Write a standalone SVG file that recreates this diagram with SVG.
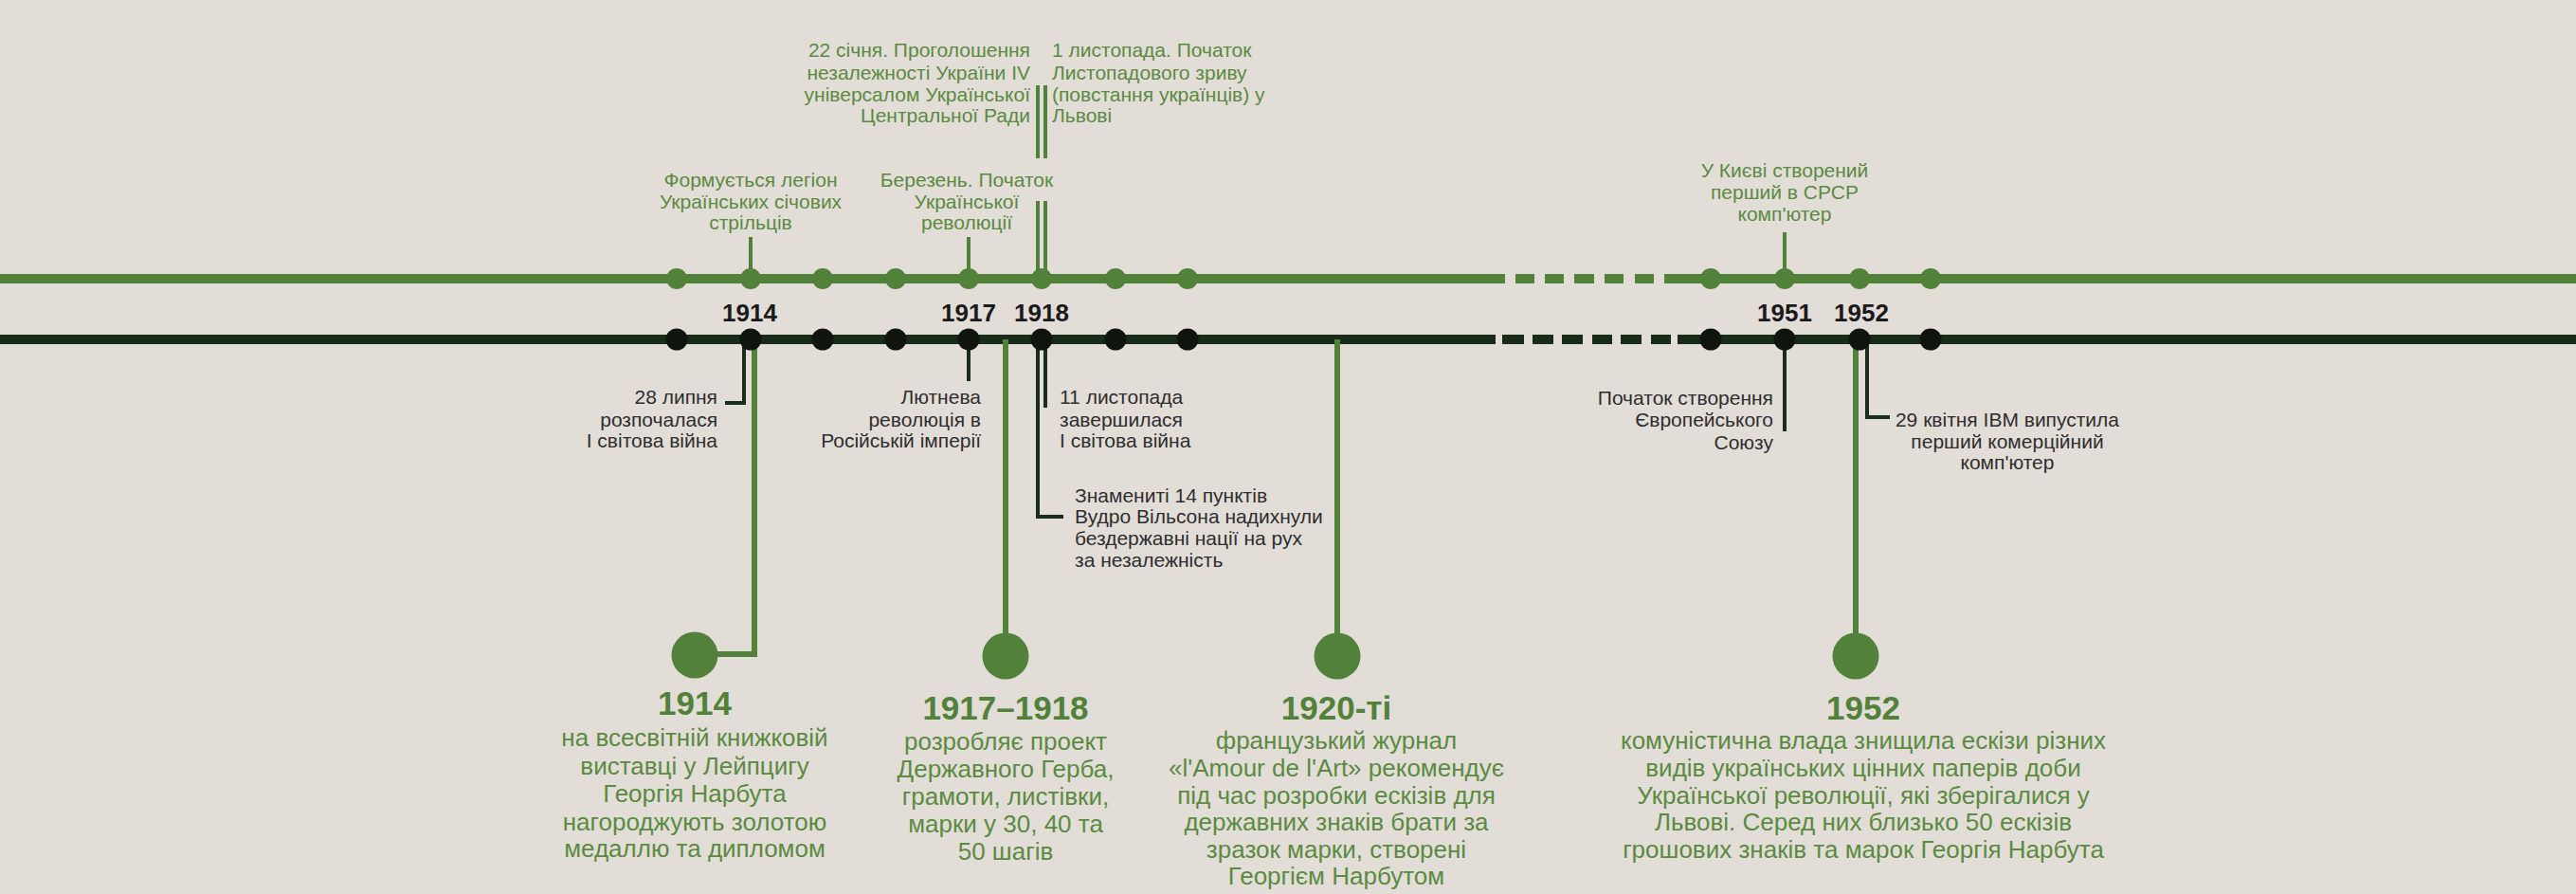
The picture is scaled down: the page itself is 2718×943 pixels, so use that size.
<svg xmlns="http://www.w3.org/2000/svg" width="2718" height="943" viewBox="0 0 2718 943">
<style>
  .bg{fill:#e3ddd8}
  .gline{stroke:#52813a;stroke-width:10;fill:none}
  .dline{stroke:#182b19;stroke-width:10;fill:none}
  .gdot{fill:#52813a}
  .ddot{fill:#0f140f}
  .gconn{stroke:#52813a;stroke-width:4;fill:none}
  .gconnb{stroke:#52813a;stroke-width:6;fill:none}
  .dconn{stroke:#1a2c1b;stroke-width:4;fill:none}
  .big{fill:#52813a}
  .lbl{font-family:"Liberation Sans",Arial,sans-serif;font-size:21px}
  .glbl{fill:#5a8b41}
  .dlbl{fill:#2e2e2e}
  .yr{font-family:"Liberation Sans",Arial,sans-serif;font-size:26px;font-weight:bold;fill:#1a1a1a;text-anchor:middle}
  .byr{font-family:"Liberation Sans",Arial,sans-serif;font-size:35px;font-weight:bold;fill:#52813a;text-anchor:middle}
  .body{font-family:"Liberation Sans",Arial,sans-serif;font-size:26px;fill:#5a8b41;text-anchor:middle}
  .mid{text-anchor:middle}
  .end{text-anchor:end}
  .start{text-anchor:start}
</style>
<rect class="bg" x="0" y="0" width="2718" height="943"/>

<g id="timeline-lines">
  <path class="gline" d="M0 294H1588"/>
  <path class="gline" d="M1756 294H2718"/>
  <path class="gline" d="M1599 294h20M1630 294h20M1661 294h21M1693 294h20M1725 294h20"/>
  <path class="dline" d="M0 358H1578"/>
  <path class="dline" d="M1770 358H2718"/>
  <path class="dline" d="M1585 358h23M1617 358h22M1648 358h22M1680 358h21M1710 358h22M1742 358h21"/>
</g>

<g id="connectors">
  <path class="gconn" d="M792 250V294"/>
  <path class="gconn" d="M1022 250V294"/>
  <path class="gconn" d="M1095 90V167M1103 90V167"/>
  <path class="gconn" d="M1095 212V294M1103 212V294"/>
  <path class="gconn" d="M1883 245V294"/>
  <path class="dconn" d="M785 358V425H765"/>
  <path class="dconn" d="M1022 358V402"/>
  <path class="dconn" d="M1103 358V430"/>
  <path class="dconn" d="M1095 358V545H1122"/>
  <path class="dconn" d="M1883 358V455"/>
  <path class="dconn" d="M1970 358V440H1994"/>
  <path class="gconnb" d="M796 358V690H733"/>
  <path class="gconnb" d="M1061 358V690"/>
  <path class="gconnb" d="M1411 358V690"/>
  <path class="gconnb" d="M1958 358V690"/>
</g>

<g id="dots">
  <circle class="gdot" cx="714" cy="294" r="11"/>
  <circle class="gdot" cx="792" cy="294" r="11"/>
  <circle class="gdot" cx="868" cy="294" r="11"/>
  <circle class="gdot" cx="945" cy="294" r="11"/>
  <circle class="gdot" cx="1022" cy="294" r="11"/>
  <circle class="gdot" cx="1099" cy="294" r="11"/>
  <circle class="gdot" cx="1177" cy="294" r="11"/>
  <circle class="gdot" cx="1253" cy="294" r="11"/>
  <circle class="gdot" cx="1805" cy="294" r="11"/>
  <circle class="gdot" cx="1883" cy="294" r="11"/>
  <circle class="gdot" cx="1962" cy="294" r="11"/>
  <circle class="gdot" cx="2037" cy="294" r="11"/>
  <circle class="ddot" cx="714" cy="358" r="11.5"/>
  <circle class="ddot" cx="792" cy="358" r="11.5"/>
  <circle class="ddot" cx="868" cy="358" r="11.5"/>
  <circle class="ddot" cx="945" cy="358" r="11.5"/>
  <circle class="ddot" cx="1022" cy="358" r="11.5"/>
  <circle class="ddot" cx="1099" cy="358" r="11.5"/>
  <circle class="ddot" cx="1177" cy="358" r="11.5"/>
  <circle class="ddot" cx="1253" cy="358" r="11.5"/>
  <circle class="ddot" cx="1805" cy="358" r="11.5"/>
  <circle class="ddot" cx="1883" cy="358" r="11.5"/>
  <circle class="ddot" cx="1962" cy="358" r="11.5"/>
  <circle class="ddot" cx="2037" cy="358" r="11.5"/>
</g>

<g id="years">
  <text class="yr" x="791" y="339">1914</text>
  <text class="yr" x="1022" y="339">1917</text>
  <text class="yr" x="1099" y="339">1918</text>
  <text class="yr" x="1883" y="339">1951</text>
  <text class="yr" x="1964" y="339">1952</text>
</g>

<g id="top-legion">
  <text class="lbl glbl mid"><tspan x="792" y="197">Формується легіон</tspan><tspan x="792" y="220">Українських січових</tspan><tspan x="792" y="242">стрільців</tspan></text>
</g>
<g id="top-berezen">
  <text class="lbl glbl mid"><tspan x="1020" y="197">Березень. Початок</tspan><tspan x="1020" y="220">Української</tspan><tspan x="1020" y="242">революції</tspan></text>
</g>
<g id="top-22sichnia">
  <text class="lbl glbl end"><tspan x="1087" y="60">22 січня. Проголошення</tspan><tspan x="1087" y="84">незалежності України IV</tspan><tspan x="1087" y="107">універсалом Української</tspan><tspan x="1087" y="129">Центральної Ради</tspan></text>
</g>
<g id="top-1lystopada">
  <text class="lbl glbl start"><tspan x="1110" y="60">1 листопада. Початок</tspan><tspan x="1110" y="84">Листопадового зриву</tspan><tspan x="1110" y="107">(повстання українців) у</tspan><tspan x="1110" y="129">Львові</tspan></text>
</g>
<g id="top-kyiv">
  <text class="lbl glbl mid"><tspan x="1883" y="187">У Києві створений</tspan><tspan x="1883" y="210">перший в СРСР</tspan><tspan x="1883" y="233">комп'ютер</tspan></text>
</g>

<g id="bot-28lypnia">
  <text class="lbl dlbl end"><tspan x="757" y="426">28 липня</tspan><tspan x="757" y="450">розпочалася</tspan><tspan x="757" y="472">І світова війна</tspan></text>
</g>
<g id="bot-liutneva">
  <text class="lbl dlbl end"><tspan x="1035" y="426">Лютнева</tspan><tspan x="1035" y="450">революція в</tspan><tspan x="1035" y="472">Російській імперії</tspan></text>
</g>
<g id="bot-11lystopada">
  <text class="lbl dlbl start"><tspan x="1118" y="426">11 листопада</tspan><tspan x="1118" y="450">завершилася</tspan><tspan x="1118" y="472">І світова війна</tspan></text>
</g>
<g id="bot-wilson">
  <text class="lbl dlbl start"><tspan x="1134" y="530">Знамениті 14 пунктів</tspan><tspan x="1134" y="552">Вудро Вільсона надихнули</tspan><tspan x="1134" y="575">бездержавні нації на рух</tspan><tspan x="1134" y="598">за незалежність</tspan></text>
</g>
<g id="bot-eu">
  <text class="lbl dlbl end"><tspan x="1871" y="427">Початок створення</tspan><tspan x="1871" y="450">Європейського</tspan><tspan x="1871" y="474">Союзу</tspan></text>
</g>
<g id="bot-ibm">
  <text class="lbl dlbl mid"><tspan x="2118" y="450">29 квітня IBM випустила</tspan><tspan x="2118" y="473">перший комерційний</tspan><tspan x="2118" y="495">комп'ютер</tspan></text>
</g>

<g id="event-1914">
  <circle class="big" cx="733" cy="691" r="24.5"/>
  <text class="byr" x="733" y="754">1914</text>
  <text class="body"><tspan x="733" y="787">на всесвітній книжковій</tspan><tspan x="733" y="817">виставці у Лейпцигу</tspan><tspan x="733" y="846">Георгія Нарбута</tspan><tspan x="733" y="876">нагороджують золотою</tspan><tspan x="733" y="904">медаллю та дипломом</tspan></text>
</g>
<g id="event-1917-1918">
  <circle class="big" cx="1061" cy="692" r="24.5"/>
  <text class="byr" x="1061" y="759">1917–1918</text>
  <text class="body"><tspan x="1061" y="791">розробляє проект</tspan><tspan x="1061" y="820">Державного Герба,</tspan><tspan x="1061" y="849">грамоти, листівки,</tspan><tspan x="1061" y="878">марки у 30, 40 та</tspan><tspan x="1061" y="907">50 шагів</tspan></text>
</g>
<g id="event-1920s">
  <circle class="big" cx="1411" cy="692" r="24.5"/>
  <text class="byr" x="1410" y="759">1920-ті</text>
  <text class="body"><tspan x="1410" y="790">французький журнал</tspan><tspan x="1410" y="819">«l'Amour de l'Art» рекомендує</tspan><tspan x="1410" y="848">під час розробки ескізів для</tspan><tspan x="1410" y="876">державних знаків брати за</tspan><tspan x="1410" y="905">зразок марки, створені</tspan><tspan x="1410" y="933">Георгієм Нарбутом</tspan></text>
</g>
<g id="event-1952">
  <circle class="big" cx="1958" cy="692" r="24.5"/>
  <text class="byr" x="1966" y="759">1952</text>
  <text class="body"><tspan x="1966" y="790">комуністична влада знищила ескізи різних</tspan><tspan x="1966" y="819">видів українських цінних паперів доби</tspan><tspan x="1966" y="848">Української революції, які зберігалися у</tspan><tspan x="1966" y="876">Львові. Серед них близько 50 ескізів</tspan><tspan x="1966" y="905">грошових знаків та марок Георгія Нарбута</tspan></text>
</g>
</svg>
